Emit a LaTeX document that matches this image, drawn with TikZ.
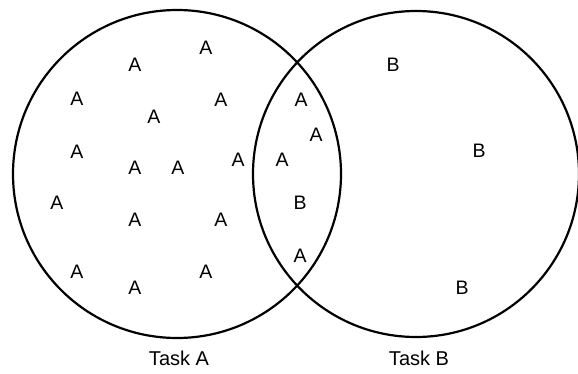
\documentclass[tikz,border=0pt]{standalone}
\usepackage{fontspec}
\setmainfont{Liberation Sans}
\usetikzlibrary{positioning}

\begin{document}
\begin{tikzpicture}[
    x=1pt, y=-1pt,
    setc/.style={draw, circle, line width=2.2pt, inner sep=0pt},
    el/.style={font=\fontsize{19.5}{19.5}\selectfont, inner sep=0pt},
    lbl/.style={font=\fontsize{20}{20}\selectfont, inner sep=0pt}
]
\useasboundingbox (0,0) rectangle (578,374);

% --- Sets ---
\node[setc, minimum size=328pt] (setA) at (177,174) {};
\node[setc, minimum size=326pt] (setB) at (416,174) {};

% --- Elements of task A only ---
\node[el] (a1)  at (206, 48)  {A};
\node[el] (a2)  at (135, 65)  {A};
\node[el] (a3)  at (77, 99)   {A};
\node[el] (a4)  at (221, 100) {A};
\node[el] (a5)  at (154, 117) {A};
\node[el] (a6)  at (77, 152)  {A};
\node[el] (a7)  at (135, 168) {A};
\node[el] (a8)  at (178, 168) {A};
\node[el] (a9)  at (238, 160) {A};
\node[el] (a10) at (57, 203)  {A};
\node[el] (a11) at (135, 220) {A};
\node[el] (a12) at (221, 220) {A};
\node[el] (a13) at (77, 272)  {A};
\node[el] (a14) at (135, 288) {A};
\node[el] (a15) at (206, 272) {A};

% --- Elements in the overlap ---
\node[el] (c1) at (282, 160) {A};
\node[el] (c2) at (301, 100) {A};
\node[el] (c3) at (316, 135) {A};
\node[el] (c4) at (300, 203) {B};
\node[el] (c5) at (300, 256) {A};

% --- Elements of task B only ---
\node[el] (b1) at (393, 65)  {B};
\node[el] (b2) at (479, 151) {B};
\node[el] (b3) at (462, 288) {B};

% --- Set labels ---
\node[lbl] (taskA) at (179, 358) {Task A};
\node[lbl] (taskB) at (419, 358) {Task B};

\end{tikzpicture}
\end{document}
